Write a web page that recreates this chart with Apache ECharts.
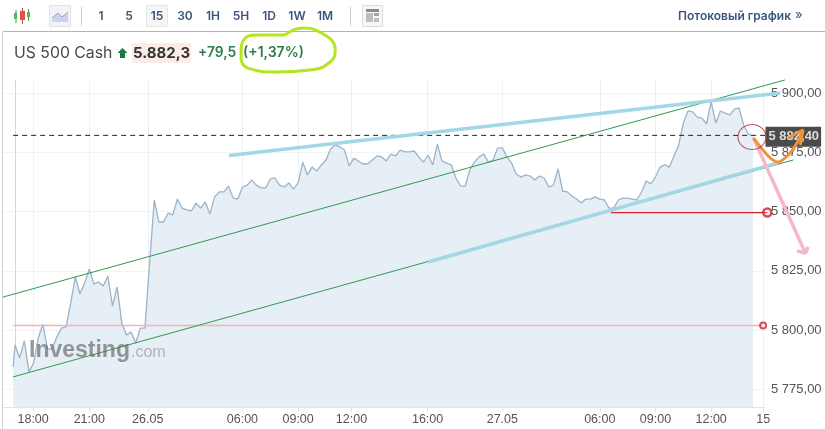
<!DOCTYPE html>
<html><head><meta charset="utf-8">
<style>html,body{margin:0;padding:0;background:#fff}#c{width:825px;height:429px}</style>
<script src="https://cdn.jsdelivr.net/npm/echarts@6/dist/echarts.min.js"></script>
</head><body><div id="c"></div>
<script>
const priceValues = [5784.4,
5793.7,5788.2,5795.4,5782.3,5786.1,5796.6,5802.5,5792.0,5792.0,5797.0,
5800.8,5801.3,5811.4,5822.4,5815.2,5819.8,5825.8,5819.4,5820.3,5818.6,
5822.8,5810.1,5818.2,5803.0,5797.9,5799.2,5794.5,5800.8,5800.8,5828.3,
5854.9,5845.6,5845.6,5849.4,5848.6,5855.3,5851.5,5850.7,5850.3,5853.6,
5851.5,5854.1,5849.0,5856.2,5858.3,5858.3,5860.8,5855.7,5855.3,5860.4,
5861.2,5863.3,5861.2,5860.0,5860.0,5863.8,5864.2,5861.2,5860.4,5862.1,
5859.5,5862.1,5870.9,5865.5,5868.8,5867.1,5869.7,5871.8,5876.4,5878.1,
5877.3,5876.0,5869.3,5872.6,5871.4,5870.1,5870.1,5871.8,5873.5,5873.1,
5871.4,5874.3,5873.5,5876.0,5875.2,5875.2,5875.6,5873.1,5870.9,5873.9,
5869.7,5878.5,5871.4,5870.5,5869.7,5864.2,5860.8,5860.8,5867.6,5870.9,
5873.1,5874.3,5870.9,5871.8,5876.9,5876.9,5873.1,5870.5,5865.9,5864.6,
5865.5,5865.0,5863.3,5865.0,5864.2,5860.4,5861.2,5868.0,5858.7,5858.3,
5856.6,5855.3,5853.6,5855.3,5855.3,5856.2,5855.3,5854.9,5851.5,5851.5,
5854.9,5855.7,5855.7,5855.3,5854.9,5858.3,5862.9,5861.7,5864.6,5868.8,
5869.7,5868.8,5873.5,5878.1,5887.4,5892.5,5892.1,5889.9,5889.5,5887.0,
5896.3,5887.4,5892.5,5891.6,5890.8,5893.3,5893.8,5886.6,5882.8,5881.9];
const firstBar = -0.4;
const timeTickBars = [3.9,16,28.6,49,61,72.5,88.9,105,126,138,150,161.2];
const timeTickLabels = ['18:00','21:00','26.05','06:00','09:00','12:00','16:00','27.05','06:00','09:00','12:00','15'];
const priceTicks = [5775,5800,5825,5850,5875,5900];
const intervalLabels = ['1','5','15','30','1H','5H','1D','1W','1M'];
const lastPriceLevel = 5882.2;
const lastPriceLabel = '5 882,40';
const greenUpper = [[-2.6,5813.9],[165.9,5905.6]];
const greenLower = [[-0.4,5780.2],[167.7,5871.8]];
const blueUpper = [[46.1,5873.7],[164.9,5900.1]];
const blueLower = [[89.0,5828.7],[164.2,5870.5]];
const redLevel = [[128.4,5849.6],[162.1,5849.6]];
const pinkLevel = [[-0.4,5801.9],[161.2,5801.9]];
const dashedLevel = [[-0.4,lastPriceLevel],[161.6,lastPriceLevel]];
const orangeScribble = [[159.1,5881.1],[162.3,5873.5],[164.4,5870.9],[166.6,5873.9],[168.5,5879.0],[169.6,5883.6]];
const orangeHead = [[166.6,5881.1],[169.8,5884.5],[169.2,5878.1]];
const pinkArrow = [[159.1,5881.1],[170.3,5832.5]];
const pinkHead = [[168.5,5833.4],[170.3,5832.5],[170.9,5835.1]];
const limeLoop = [[58.2,5924.6],[61.9,5927.5],[65.7,5925.8],[69.0,5918.2],[67.9,5913.2],[63.6,5909.8],[56.5,5909.0],[50.2,5910.6],[48.7,5916.1],[49.6,5923.3],[52.8,5924.6],[58.2,5924.6]];
const circleMark = [158.8,5881.5];

const FONT = 'Inter, "Liberation Sans", sans-serif';
const AXISFONT = '"Liberation Sans", Arial, sans-serif';
const priceData = priceValues.map((v,i)=>[i===0?firstBar:i-1,v]);
// hand-drawn marks use a second pair of axes on the same scale, reaching to the page edge
function drawn(name,data,color,width,z,extra){
  return Object.assign({type:'line',name,data,xAxisIndex:1,yAxisIndex:1,symbol:'none',clip:false,silent:true,z:z||5,
    lineStyle:{color,width},animation:false},extra||{});
}
const navy='#3a557f';
const graphics=[
 {type:'line',shape:{x1:3,y1:31.5,x2:825,y2:31.5},style:{stroke:'#b4b4b4',lineWidth:1}},
 {type:'line',shape:{x1:2.5,y1:32,x2:2.5,y2:429},style:{stroke:'#d2d2d2',lineWidth:1}},
 {type:'line',shape:{x1:81.5,y1:7,x2:81.5,y2:26},style:{stroke:'#cfcfcf',lineWidth:1}},
 {type:'line',shape:{x1:350.5,y1:7,x2:350.5,y2:26},style:{stroke:'#cfcfcf',lineWidth:1}},
 {type:'line',shape:{x1:16,y1:10,x2:16,y2:23},style:{stroke:'#3c9a4c',lineWidth:1}},
 {type:'rect',shape:{x:14,y:13,width:3,height:6},style:{fill:'#5bb35c'}},
 {type:'line',shape:{x1:22.5,y1:8,x2:22.5,y2:24},style:{stroke:'#c8504a',lineWidth:1}},
 {type:'rect',shape:{x:20,y:11,width:5,height:9},style:{fill:'#e0524a'}},
 {type:'line',shape:{x1:28.5,y1:9,x2:28.5,y2:21},style:{stroke:'#3c9a4c',lineWidth:1}},
 {type:'rect',shape:{x:27,y:12,width:3,height:5},style:{fill:'#5bb35c'}},
 {type:'rect',shape:{x:49.5,y:5.5,width:21,height:21},style:{fill:'#f1f3f7',stroke:'#e2e2e2',lineWidth:1}},
 {type:'polygon',shape:{points:[[52,22],[52,18],[58,13],[62,17],[68,12],[68,22]]},style:{fill:'#c9d5e8'}},
 {type:'polyline',shape:{points:[[52,18],[58,13],[62,17],[68,12]]},style:{stroke:'#8fa6c6',lineWidth:1,fill:'none'}},
 {type:'rect',shape:{x:146.5,y:5.5,width:21,height:21},style:{fill:'#f6f6f6',stroke:'#e6e6e6',lineWidth:1}},
 {type:'rect',shape:{x:362.5,y:5.5,width:20,height:21},style:{fill:'#f7f7f7',stroke:'#dcdcdc',lineWidth:1}},
 {type:'rect',shape:{x:366,y:9,width:13,height:3},style:{fill:'#8b8b8b'}},
 {type:'rect',shape:{x:366,y:13,width:7,height:9},style:{fill:'#bdbdbd'}},
 {type:'rect',shape:{x:374,y:13,width:5,height:3},style:{fill:'#a5a5a5'}},
 {type:'rect',shape:{x:374,y:18,width:5,height:4},style:{fill:'#bdbdbd'}},
 {type:'text',x:678,y:16,style:{text:'Потоковый график',font:'600 12px '+FONT,fill:navy,textVerticalAlign:'middle'}},
 {type:'text',x:795,y:15,style:{text:'»',font:'13px '+FONT,fill:navy,textVerticalAlign:'middle'}},
 {type:'text',x:14,y:53,style:{text:'US 500 Cash',font:'15.8px '+FONT,fill:'#4a4a4a',textVerticalAlign:'middle'}},
 {type:'polygon',shape:{points:[[122.5,48],[127.5,53],[125,53],[125,58],[120,58],[120,53],[117.5,53]]},style:{fill:'#157a3c'}},
 {type:'rect',shape:{x:132,y:43,width:59,height:20},style:{fill:'#fbece7'}},
 {type:'text',x:133,y:53,style:{text:'5.882,3',font:'bold 15px '+FONT,fill:'#333',textVerticalAlign:'middle'}},
 {type:'text',x:198,y:53,style:{text:'+79,5',font:'600 13.8px '+FONT,fill:'#2c7d4a',textVerticalAlign:'middle'}},
 {type:'text',x:243,y:53,style:{text:'(+1,37%)',font:'600 14px '+FONT,fill:'#2c7d4a',textVerticalAlign:'middle'}},
 {type:'text',x:29,y:351,z:30,style:{text:'Investing',font:'bold 23px '+AXISFONT,fill:'rgba(105,105,105,0.68)',textVerticalAlign:'middle'}},
 {type:'text',x:131,y:353,z:30,style:{text:'.com',font:'16px '+AXISFONT,fill:'rgba(140,140,140,0.6)',textVerticalAlign:'middle'}}
];
intervalLabels.forEach((t,i)=>graphics.push({type:'text',x:101+28*i,y:16,style:{text:t,font:'600 12px '+FONT,fill:navy,textAlign:'center',textVerticalAlign:'middle'}}));

const chart=echarts.init(document.getElementById('c'),null,{renderer:'canvas'});
chart.setOption({
 animation:false,
 graphic:{elements:graphics},
 grid:[
  {left:3,right:60,top:80,bottom:22,containLabel:false,outerBoundsMode:'none'},
  {left:3,right:0,top:80,bottom:22,containLabel:false,outerBoundsMode:'none'}
 ],
 xAxis:[{type:'value',gridIndex:0,min:-2.59,max:161.6,
   axisLine:{show:true,lineStyle:{color:'#e4e4e4'}},
   axisTick:{show:true,length:5,lineStyle:{color:'#e4e4e4'},customValues:timeTickBars},
   splitLine:{show:true,lineStyle:{color:'#eef1f4'}},
   axisLabel:{customValues:timeTickBars,color:'#555',fontSize:12.5,fontFamily:AXISFONT,margin:6,
     formatter:v=>{const k=timeTickBars.indexOf(v);return k>=0?timeTickLabels[k]:'';}}},
  {type:'value',gridIndex:1,min:-2.59,max:174.53,show:false,splitLine:{show:false}}],
 yAxis:[{type:'value',gridIndex:0,position:'right',min:5767.48,max:5905.58,
   axisLine:{show:true,lineStyle:{color:'#d8d8d8'}},
   axisTick:{show:false,customValues:priceTicks},
   splitLine:{show:true,lineStyle:{color:'#f3f3f3'}},
   axisLabel:{customValues:priceTicks,color:'#555',fontSize:13,fontFamily:AXISFONT,margin:6,
     formatter:v=>{const s=String(v);return s[0]+' '+s.slice(1)+',00';}}},
  {type:'value',gridIndex:1,min:5767.48,max:5905.58,show:false,splitLine:{show:false}}],
 series:[
  {type:'line',name:'US 500 Cash',data:priceData,symbol:'none',z:2,
   lineStyle:{color:'#9cb4c8',width:1.3},areaStyle:{color:'#e6eef6',opacity:1,origin:'start'}},
  drawn('Level',pinkLevel,'#f4b2b2',1.4,4),
  drawn('Last',dashedLevel,'#222',1,4,{lineStyle:{color:'#222',width:1,type:[5,4]}}),
  drawn('Upper channel',greenUpper,'#2f9a4f',1),
  drawn('Lower channel',greenLower,'#2f9a4f',1),
  drawn('Upper trend',blueUpper,'#a3d7e6',3.5,6),
  drawn('Lower trend',blueLower,'#a3d7e6',3.5,6),
  drawn('Support',redLevel,'#cf2231',1.2,6),
  drawn('Loop',limeLoop,'#b6e51f',3,7,{smooth:0.5}),
  drawn('Down arrow',pinkArrow,'#f5b7cd',3.5,7),
  drawn('Down head',pinkHead,'#f5b7cd',3.5,7),
  drawn('Path',orangeScribble,'#ef9239',3,8,{smooth:0.3}),
  drawn('Path head',orangeHead,'#ef9239',3,8),
  {type:'scatter',name:'Rings',xAxisIndex:1,yAxisIndex:1,clip:false,silent:true,z:9,symbolSize:8,
   data:[[redLevel[1][0],redLevel[1][1]]],
   itemStyle:{color:'rgba(255,255,255,0.2)',borderColor:'#d01f30',borderWidth:2.5}},
  {type:'scatter',name:'Ring2',xAxisIndex:1,yAxisIndex:1,clip:false,silent:true,z:9,symbolSize:6,
   data:[[pinkLevel[1][0],pinkLevel[1][1]]],
   itemStyle:{color:'rgba(255,255,255,0.2)',borderColor:'#d01f30',borderWidth:2}},
  {type:'scatter',name:'Circle',xAxisIndex:1,yAxisIndex:1,clip:false,silent:true,z:9,symbolSize:[28,25],data:[circleMark],
   itemStyle:{color:'rgba(0,0,0,0)',borderColor:'#b5272f',borderWidth:1}},
  {type:'scatter',name:'Last label',clip:false,silent:true,z:6,symbolSize:1,
   data:[[161.6,lastPriceLevel]],itemStyle:{color:'rgba(0,0,0,0)'},
   label:{show:true,position:'right',distance:0,offset:[0,1.5],formatter:()=>lastPriceLabel,color:'#fff',fontWeight:'bold',fontSize:13,fontFamily:AXISFONT,
     backgroundColor:'#1e1e1e',padding:[4,2,3,3]}}
 ]
});
</script></body></html>
